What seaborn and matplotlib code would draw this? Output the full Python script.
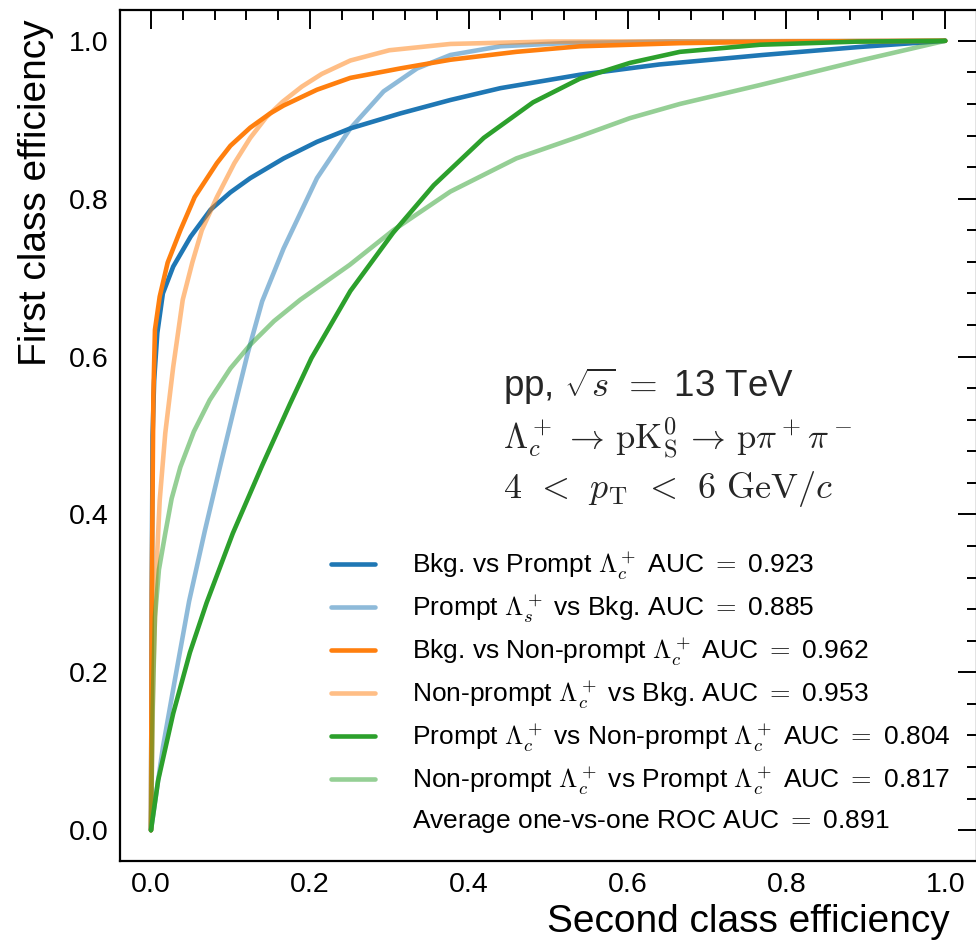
import numpy as np
import pandas as pd
import seaborn as sns
import matplotlib
matplotlib.use("Agg")
import matplotlib.pyplot as plt
from matplotlib.ticker import MultipleLocator

# ---- data ----
bkg_prompt_x = [0.0, 0.001, 0.002, 0.004, 0.008, 0.015, 0.028, 0.05, 0.075, 0.1, 0.125, 0.167, 0.209, 0.251, 0.314, 0.377, 0.44, 0.54, 0.64, 0.77, 0.89, 1.0]
bkg_prompt_y = [0.0, 0.30, 0.50, 0.57, 0.63, 0.68, 0.714, 0.752, 0.786, 0.808, 0.826, 0.851, 0.872, 0.889, 0.908, 0.925, 0.94, 0.957, 0.970, 0.982, 0.992, 1.0]

prompt_bkg_x = [0.0, 0.015, 0.030, 0.048, 0.068, 0.088, 0.108, 0.122, 0.14, 0.167, 0.209, 0.251, 0.293, 0.335, 0.377, 0.44, 0.52, 0.65, 1.0]
prompt_bkg_y = [0.0, 0.105, 0.19, 0.29, 0.38, 0.465, 0.548, 0.605, 0.67, 0.737, 0.826, 0.889, 0.936, 0.965, 0.982, 0.993, 0.997, 0.999, 1.0]

bkg_nonprompt_x = [0.0, 0.001, 0.003, 0.005, 0.011, 0.021, 0.037, 0.055, 0.083, 0.1, 0.125, 0.15, 0.167, 0.209, 0.251, 0.314, 0.377, 0.46, 0.54, 0.666, 0.8, 1.0]
bkg_nonprompt_y = [0.0, 0.30, 0.55, 0.634, 0.676, 0.719, 0.76, 0.802, 0.845, 0.867, 0.89, 0.908, 0.918, 0.938, 0.953, 0.965, 0.976, 0.986, 0.993, 0.997, 0.999, 1.0]

nonprompt_bkg_x = [0.0, 0.003, 0.007, 0.011, 0.018, 0.028, 0.040, 0.052, 0.064, 0.083, 0.105, 0.125, 0.145, 0.166, 0.19, 0.215, 0.251, 0.3, 0.377, 0.5, 1.0]
nonprompt_bkg_y = [0.0, 0.20, 0.333, 0.418, 0.503, 0.587, 0.672, 0.719, 0.76, 0.802, 0.845, 0.877, 0.903, 0.923, 0.942, 0.958, 0.975, 0.988, 0.996, 0.999, 1.0]

prompt_nonprompt_x = [0.0, 0.009, 0.028, 0.049, 0.07, 0.103, 0.14, 0.175, 0.202, 0.251, 0.305, 0.356, 0.419, 0.481, 0.54, 0.603, 0.666, 0.767, 0.89, 1.0]
prompt_nonprompt_y = [0.0, 0.063, 0.148, 0.225, 0.288, 0.376, 0.462, 0.540, 0.598, 0.683, 0.757, 0.817, 0.877, 0.922, 0.952, 0.972, 0.986, 0.995, 0.999, 1.0]

nonprompt_prompt_x = [0.0, 0.002, 0.005, 0.010, 0.018, 0.026, 0.037, 0.054, 0.074, 0.1, 0.125, 0.155, 0.188, 0.25, 0.305, 0.377, 0.46, 0.54, 0.603, 0.666, 0.767, 0.893, 1.0]
nonprompt_prompt_y = [0.0, 0.15, 0.27, 0.33, 0.376, 0.42, 0.46, 0.505, 0.545, 0.585, 0.615, 0.645, 0.672, 0.716, 0.76, 0.809, 0.851, 0.879, 0.902, 0.920, 0.944, 0.975, 1.0]

labels = [
    r"Bkg. vs Prompt $\Lambda_c^+$ AUC $=$ 0.923",
    r"Prompt $\Lambda_s^+$ vs Bkg. AUC $=$ 0.885",
    r"Bkg. vs Non-prompt $\Lambda_c^+$ AUC $=$ 0.962",
    r"Non-prompt $\Lambda_c^+$ vs Bkg. AUC $=$ 0.953",
    r"Prompt $\Lambda_c^+$ vs Non-prompt $\Lambda_c^+$ AUC $=$ 0.804",
    r"Non-prompt $\Lambda_c^+$ vs Prompt $\Lambda_c^+$ AUC $=$ 0.817",
]
average_label = r"Average one-vs-one ROC AUC $=$ 0.891"

sns.set_theme(style="white")
plt.rcParams["font.family"] = ["Liberation Sans", "DejaVu Sans"]
plt.rcParams["mathtext.fontset"] = "cm"

fig = plt.figure(figsize=(9.76, 9.44), dpi=100)
ax = fig.add_axes([120 / 976, 83 / 944, 857 / 976, 851 / 944])

curves = [
    (bkg_prompt_x, bkg_prompt_y, "#1f77b4", 1.0),
    (prompt_bkg_x, prompt_bkg_y, "#1f77b4", 0.5),
    (bkg_nonprompt_x, bkg_nonprompt_y, "#ff7f0e", 1.0),
    (nonprompt_bkg_x, nonprompt_bkg_y, "#ff7f0e", 0.5),
    (prompt_nonprompt_x, prompt_nonprompt_y, "#2ca02c", 1.0),
    (nonprompt_prompt_x, nonprompt_prompt_y, "#2ca02c", 0.5),
]
for (xs, ys, col, a), lab in zip(curves, labels):
    df = pd.DataFrame({"x": xs, "y": ys})
    sns.lineplot(data=df, x="x", y="y", ax=ax, color=col, alpha=a, lw=3.3,
                 label=lab, sort=False, estimator=None)
ax.plot([], [], " ", label=average_label)

ax.set_xlim(-0.039, 1.040)
ax.set_ylim(-0.039, 1.039)
ax.xaxis.set_major_locator(MultipleLocator(0.2))
ax.xaxis.set_minor_locator(MultipleLocator(0.04))
ax.yaxis.set_major_locator(MultipleLocator(0.2))
ax.yaxis.set_minor_locator(MultipleLocator(0.04))
ax.tick_params(which="both", direction="in", top=True, right=True, color="black",
               width=1.4, labelsize=20.5, labelcolor="black")
ax.tick_params(which="major", length=14, pad=8)
ax.tick_params(which="minor", length=7)
for s in ax.spines.values():
    s.set_color("black")
    s.set_linewidth(1.6)

ax.set_xlabel("Second class efficiency", fontsize=28, color="black", loc="right")
ax.set_ylabel("First class efficiency", fontsize=28, color="black", loc="top")
ax.xaxis.set_label_coords(0.968, -0.050)
ax.yaxis.set_label_coords(-0.077, 0.989)

tx = 0.447
ax.text(tx, 0.545, r"pp, $\sqrt{s}\;=$ 13 TeV", transform=ax.transAxes, fontsize=26.5, va="baseline")
ax.text(tx, 0.484, r"$\Lambda_c^+ \,\rightarrow\, \mathrm{pK^0_S} \,\rightarrow\, \mathrm{p}\pi^+\pi^-$",
        transform=ax.transAxes, fontsize=25, va="baseline")
ax.text(tx, 0.426, r"$4 \;\,<\;\, p_\mathrm{T} \;\,<\;\, 6\ \mathrm{GeV}/c$", transform=ax.transAxes,
        fontsize=26, va="baseline")

leg = ax.legend(loc="lower right", bbox_to_anchor=(0.969, 0.030), frameon=False, fontsize=19,
                handlelength=1.68, handletextpad=1.4, labelspacing=0.42, borderpad=0, borderaxespad=0)
for t in leg.get_texts():
    t.set_color("black")

fig.savefig("out.png", dpi=100)
